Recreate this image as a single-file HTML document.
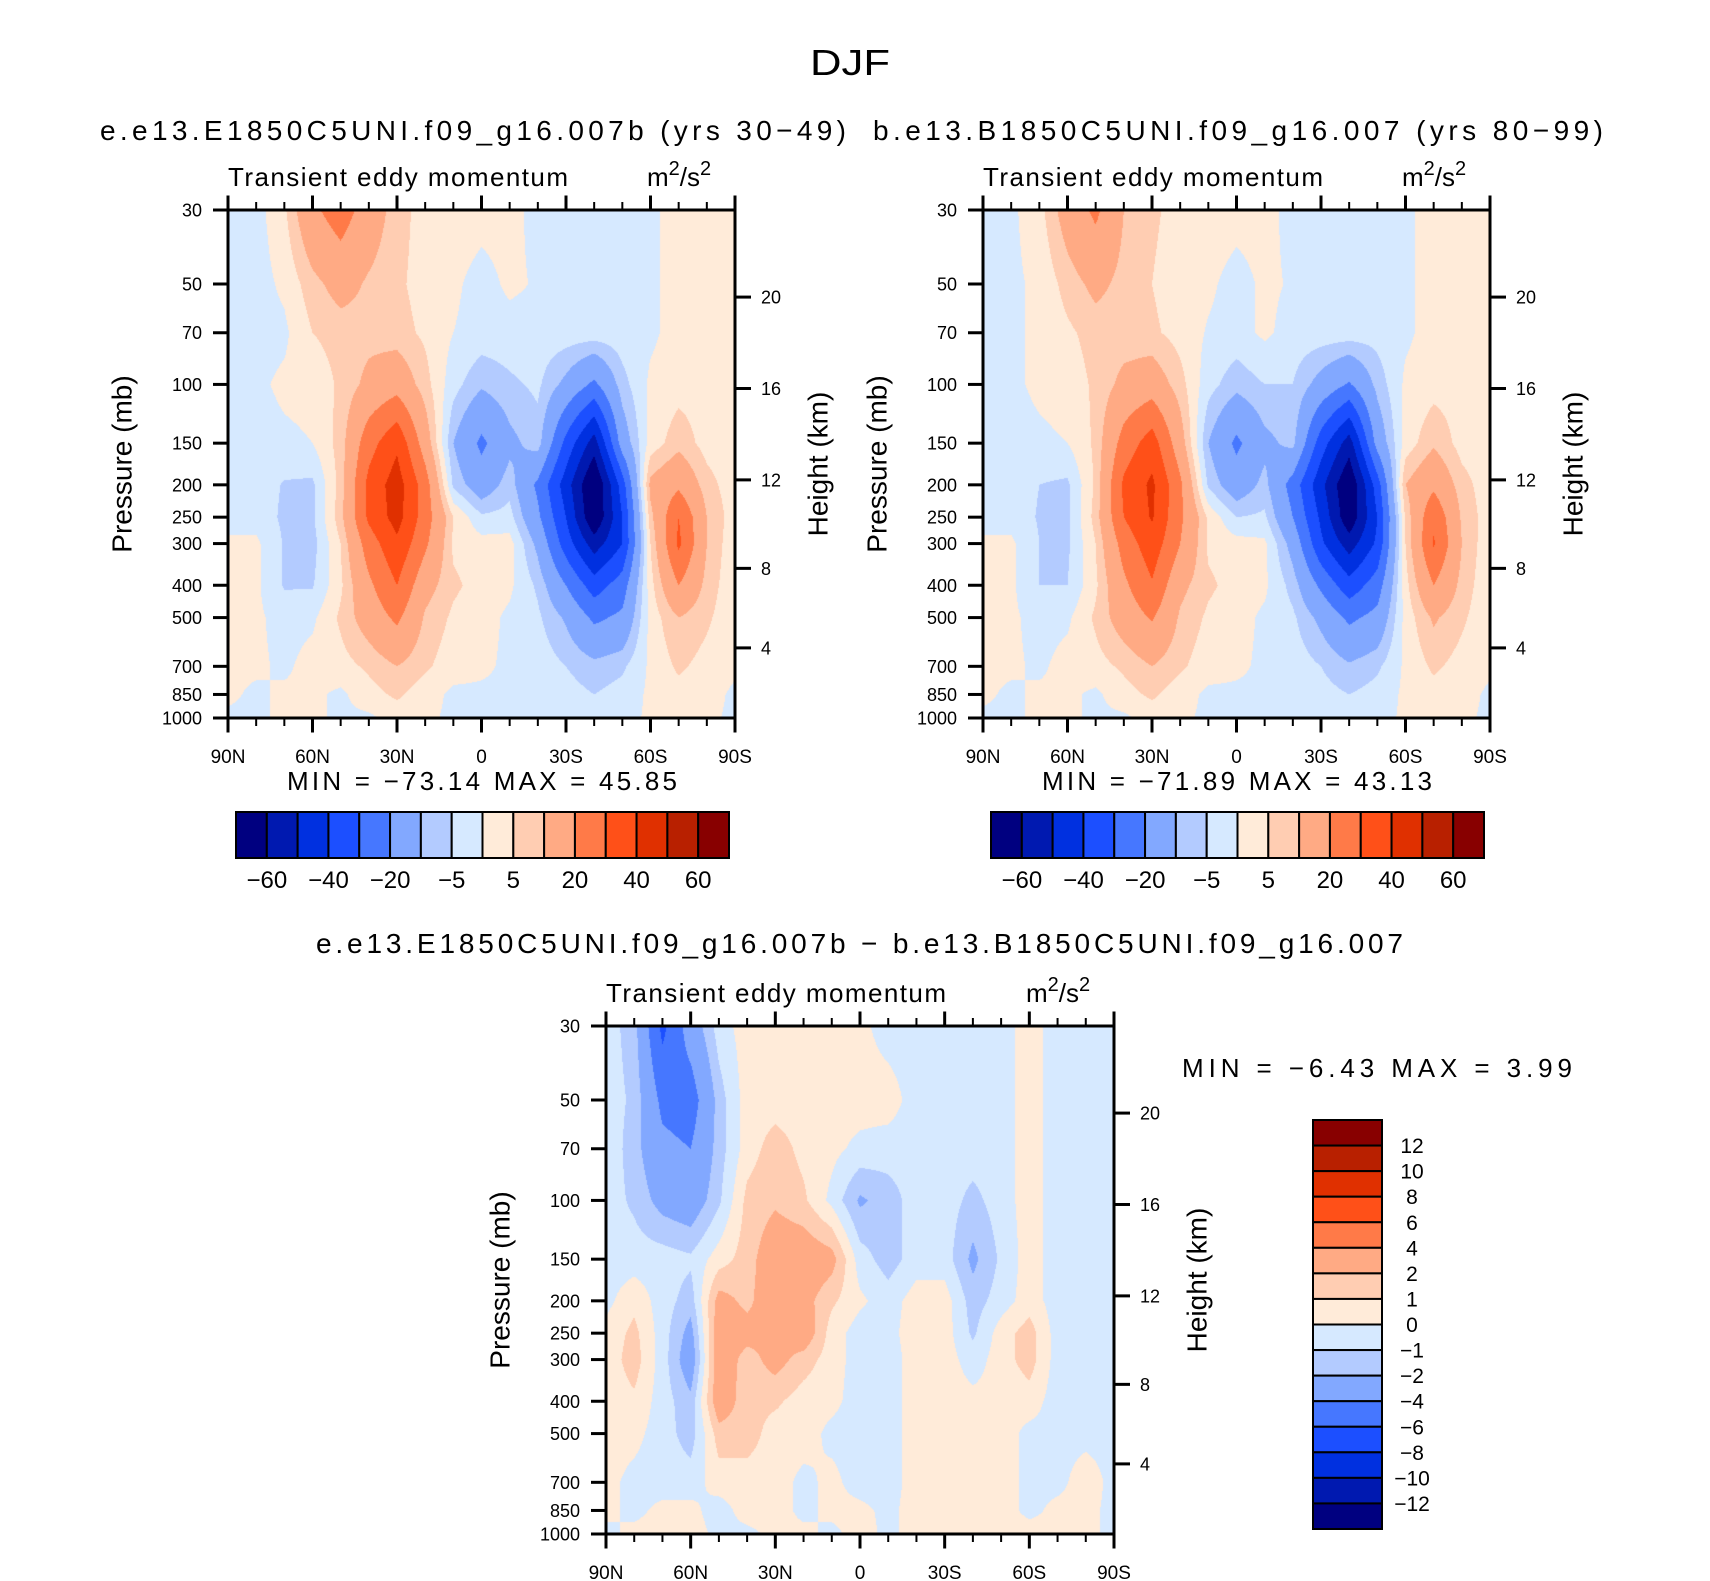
<!DOCTYPE html>
<html><head><meta charset="utf-8">
<style>
html,body{margin:0;padding:0;background:#fff;}
#root{position:relative;width:1710px;height:1581px;overflow:hidden;background:#fff;font-family:"Liberation Sans",sans-serif;}
canvas{position:absolute;}
svg{position:absolute;left:0;top:0;}
</style></head>
<body>
<div id="root">
<canvas id="c1" style="left:228px;top:210px" width="507" height="508"></canvas>
<canvas id="c2" style="left:983px;top:210px" width="507" height="508"></canvas>
<canvas id="c3" style="left:606px;top:1026px" width="508" height="508"></canvas>
<svg id="s" width="1710" height="1581"></svg>
</div>
<script>
// ---- data ----
const lats = [90,80,70,60,50,40,30,20,10,0,-10,-20,-30,-40,-50,-60,-70,-80,-90];
const plevs = [30,50,70,100,150,200,250,300,400,500,700,850,1000];
const pTicks = [30,50,70,100,150,200,250,300,400,500,700,850,1000];
const hTicks = [4,8,12,16,20];
const latTicks = [90,60,30,0,-30,-60,-90];
const latTickLabels = ["90N","60N","30N","0","30S","60S","90S"];
const levelsA = [-60,-50,-40,-30,-20,-10,-5,0,5,10,20,30,40,50,60];
const levelsALabels = ["−60","","−40","","−20","","−5","","5","","20","","40","","60"];
const levelsD = [-12,-10,-8,-6,-4,-2,-1,0,1,2,4,6,8,10,12];
const levelsDLabels = ["−12","−10","−8","−6","−4","−2","−1","0","1","2","4","6","8","10","12"];
const fillColors = ["#000080","#0019b0","#0030e0","#1c4fff","#4677ff","#82a8ff","#b3cbff","#d6e9ff","#ffebd9","#ffcdb2","#ffaa84","#ff7a48","#ff5018","#e03000","#b82000","#880000"];
const fieldE = [
[-2,-2,4,18,25,15,7,3,3,2,2,-2,-2,-2,-2,-1,2,2,2],
[-2,-2,1,8,13,9,6,3,1,-2,1,-0.5,-2,-2,-2,-1,2,2,2],
[-2,-2,-1,5,7,8,7,4,0,-2,-2,-2,-2,-2,-2,-1,2,2,2],
[-2,-1,1,1.5,6,12,16,7,-3,-9,-6,-4,-12,-22,-7,1,3,3,2],
[-2,-2,-1,0,7,26,38,15,-10,-22,-12,-7,-33,-55,-15,2,8,3,2],
[-2,-2,-5.5,-6,7,33,45,25,-6,-15,-7,-22,-45,-72,-35,12,18,7,2],
[-2,-2,-6,-6,8,32,44,25,5,-4,-3,-18,-40,-70,-40,8,30,10,2],
[1,1,-5.5,-7,5,25,38,22,4,2,2,-12,-35,-55,-40,5,32,10,1],
[1,1,-5.5,-5.5,4,18,30,13,6,3,1,-6,-20,-35,-25,3,20,8,1],
[1,1,-2,-1,6,14,22,9,4,2,-1,-4,-11,-22,-18,2,10,6,1],
[1,1,-1,2,3,6,10,6,2,1,-1,-2,-5,-8,-6,1,6,3,1],
[1,-1,1,1,-1,3,6,2,-1,-1,-1,-2,-3,-5,-3,1,3,2,-1],
[-1,-1,1,1,-1,-1,2,1,-1,-1,-3,-1,-3,-4,-2,1,1,1,-1]];
const fieldB = [
[-2,-1,3,14,22,10,6,3,3,2,2,-2,-2,-2,-2,-1,2,2,2],
[-2,-1,1,7,12,8,5,2,1,-2,1,-0.5,-2,-2,-2,-1,2,2,2],
[-2,-1,1,4,7,7,6,3,-0.5,-2,1,-2,-2,-2,-3,-1,2,2,2],
[-2,-1,1,2,6,12,15,7,-3,-8,-5,-5,-13,-21,-8,1,3,3,2],
[-2,-2,-1,0,6,24,35,14,-10,-22,-12,-8,-35,-55,-16,2,9,3,2],
[-2,-2,-5,-6,6,32,42,22,-6,-15,-8,-24,-47,-70,-35,10,18,7,2],
[-2,-2,-5.5,-6,7,30,41,22,4,-5,-4,-20,-42,-68,-40,6,28,9,2],
[1,1,-5,-6,5,24,36,20,4,2,1,-13,-38,-55,-38,5,31,10,1],
[1,1,-5,-5,4,18,29,12,6,3,1,-7,-22,-36,-25,3,20,8,1],
[1,1,-2,-1,6,14,21,9,4,2,-1,-4,-12,-22,-17,2,11,6,1],
[1,1,-1,2,3,6,10,6,2,1,-1,-2,-5,-9,-6,1,6,3,1],
[1,-1,1,1,-1,3,6,2,-1,-1,-1,-2,-3,-5,-3,1,3,2,-1],
[-1,-1,1,1,-1,-1,2,1,-1,-1,-3,-1,-3,-4,-2,1,1,1,-1]];
const fieldD = [
[-0.5,-1.5,-6.5,-3,-0.5,0.5,0.5,0.5,0.5,0.3,-0.5,-0.5,-0.5,-0.5,-0.5,0.5,-0.5,-0.5,-0.3],
[-0.5,-1.2,-4.5,-5,-1.5,0.5,0.5,0.5,0.5,0.5,0.5,-0.5,-0.5,-0.5,-0.5,0.5,-0.5,-0.5,-0.3],
[-0.3,-1.5,-3.5,-4,-1.5,0.5,1.5,0.7,0.3,-0.3,-0.5,-0.5,-0.5,-0.5,-0.5,0.5,-0.5,-0.5,-0.3],
[-0.5,-1.2,-2.5,-3,-1.2,1.3,1.8,1.2,-0.3,-2.2,-1.5,-0.5,-0.5,-1.3,-0.5,0.5,-0.5,-0.5,-0.5],
[-0.5,-0.5,-0.5,-0.8,0.5,1.5,3,3,2.5,-0.5,-1.5,-0.5,-0.5,-2.3,-0.8,0.5,-0.5,-0.5,-0.5],
[-0.3,0.7,-0.5,-1.5,2.5,1.7,3,2.5,1.2,0.2,-0.5,0.5,0.5,-1.5,-0.5,0.5,-0.5,-0.5,-0.5],
[0.3,1.3,-0.5,-2.5,3,2.5,2.2,3,0.5,-0.5,-0.3,0.5,0.5,-1.2,0.5,1.5,-0.5,-0.5,-0.3],
[0.4,1.5,-0.5,-3,3,1.5,2.5,1.5,0.5,-0.5,-0.5,0.5,0.5,-0.5,0.5,1.5,-0.5,-0.5,-0.3],
[0.4,0.8,-0.5,-1.7,3,1.3,1.2,0.5,0.3,-0.5,-0.5,0.5,0.5,0.3,0.3,0.5,-0.5,-0.5,-0.3],
[0.4,0.3,-0.5,-1.5,1.5,1.5,0.5,0.5,-0.3,-0.5,-0.5,0.5,0.5,0.5,0.5,-0.3,-0.3,-0.3,-0.3],
[0.3,-0.3,-0.5,-0.5,0.5,0.5,0.5,-0.3,0.3,-0.5,-0.5,0.5,0.5,0.5,0.5,-0.3,-0.3,0.5,-0.3],
[0.3,-0.3,0.3,0.3,-0.5,0.5,0.5,-0.3,0.3,0.3,-0.3,0.5,0.5,0.5,0.5,-0.3,0.3,0.3,-0.3],
[-0.3,0.3,0.5,0.5,-0.3,-0.3,0.3,0.3,-0.3,0.5,-0.3,0.5,0.5,0.5,0.5,0.5,0.3,0.3,-0.3]];

// ---- helpers ----
const LN = Math.log(1000/30);
function yFrac(p){return Math.log(p/30)/LN;}
function xFrac(lat){return (90-lat)/180;}
function zToP(z){return z<=11?1013.25*Math.pow(1-z/44.33,5.256):226.3*Math.exp(-(z-11)/6.34);}
function hex(c){return [parseInt(c.substr(1,2),16),parseInt(c.substr(3,2),16),parseInt(c.substr(5,2),16)];}
const rgb = fillColors.map(hex);
function binOf(v,lev){let i=0;while(i<lev.length&&v>=lev[i])i++;return i;}
const logP = plevs.map(p=>Math.log(p));

function drawField(id,field,lev){
  const cv=document.getElementById(id),ctx=cv.getContext('2d');
  const W=cv.width,H=cv.height,img=ctx.createImageData(W,H);
  for(let y=0;y<H;y++){
    const lp=Math.log(30)+ (y+0.5)/H*LN;
    let j=0;while(j<logP.length-2&&lp>logP[j+1])j++;
    let ty=(lp-logP[j])/(logP[j+1]-logP[j]);ty=Math.max(0,Math.min(1,ty));
    for(let x=0;x<W;x++){
      const lf=(x+0.5)/W*(lats.length-1);
      let i=Math.min(lats.length-2,Math.floor(lf));const tx=lf-i;
      const v=(field[j][i]*(1-tx)+field[j][i+1]*tx)*(1-ty)+(field[j+1][i]*(1-tx)+field[j+1][i+1]*tx)*ty;
      const c=rgb[binOf(v,lev)],k=(y*W+x)*4;
      img.data[k]=c[0];img.data[k+1]=c[1];img.data[k+2]=c[2];img.data[k+3]=255;
    }
  }
  ctx.putImageData(img,0,0);
}
drawField('c1',fieldE,levelsA);
drawField('c2',fieldB,levelsA);
drawField('c3',fieldD,levelsD);

const NS="http://www.w3.org/2000/svg",S=document.getElementById('s');
function el(tag,attrs,txt){const e=document.createElementNS(NS,tag);for(const k in attrs)e.setAttribute(k,attrs[k]);if(txt!==undefined)e.textContent=txt;S.appendChild(e);return e;}
function line(x1,y1,x2,y2,w,name){const e=el('line',{x1,y1,x2,y2,stroke:'#000','stroke-width':w});

return e;}
function text(x,y,s,size,anchor,name,extra){const a={x,y,'font-size':size,'text-anchor':anchor||'start',fill:'#000'};if(extra)Object.assign(a,extra);const e=el('text',a,s);

return e;}

function axes(x0,y0,W,H){
  const X=lat=>x0+xFrac(lat)*W, Y=p=>y0+yFrac(p)*H;
  const r=el('rect',{x:x0,y:y0,width:W,height:H,fill:'none',stroke:'#000','stroke-width':3});
  
  
  pTicks.forEach(p=>{line(x0-15,Y(p),x0,Y(p),3,'pressure-tick');text(x0-26,Y(p)+6.5,String(p),18,'end','pressure-tick-label');});
  hTicks.forEach(z=>{const y=Y(zToP(z));line(x0+W,y,x0+W+16,y,3,'height-tick');text(x0+W+26,y+6.5,String(z),18,'start','height-tick-label');});
  for(let lat=90;lat>=-90;lat-=10){const major=lat%30===0,L=major?14.5:8,w=major?3:2;
    line(X(lat),y0-L,X(lat),y0,w,'lat-tick-top');line(X(lat),y0+H,X(lat),y0+H+L,w,'lat-tick-bottom');}
  latTicks.forEach((lat,i)=>text(X(lat),y0+H+45,latTickLabels[i],19,'middle','lat-tick-label'));
  const cy=y0+H/2;
  text(x0-104,cy,'Pressure  (mb)',28,'middle','y-axis-title',{transform:`rotate(-90 ${x0-104} ${cy})`,'dominant-baseline':'middle'});
  text(x0+W+85,cy,'Height  (km)',28,'middle','height-axis-title',{transform:`rotate(-90 ${x0+W+85} ${cy})`,'dominant-baseline':'middle'});
  text(x0,y0-24,'Transient  eddy  momentum',26,'start','plot-subtitle',{textLength:340,lengthAdjust:'spacing'});
  const u=text(x0+W-88,y0-24,'',26,'start','units-label');
  u.innerHTML='m<tspan dy="-11" font-size="20">2</tspan><tspan dy="11">/s</tspan><tspan dy="-11" font-size="20">2</tspan>';
}
axes(228,210,507,508);
axes(983,210,507,508);
axes(606,1026,508,508);

function hbar(x0,y0,W,H){
  const n=fillColors.length,bw=W/n;
  fillColors.forEach((c,i)=>{const r=el('rect',{x:x0+i*bw,y:y0,width:bw,height:H,fill:c,stroke:'#000','stroke-width':2});
    
    });
  levelsA.forEach((v,i)=>{if(levelsALabels[i])text(x0+(i+1)*bw,y0+H+30,levelsALabels[i],24,'middle','colorbar-label');});
}
hbar(236,812,493,46);
hbar(991,812,493,46);
function vbar(x0,y0,W,H){
  const n=fillColors.length,bh=H/n;
  fillColors.slice().reverse().forEach((c,i)=>{const r=el('rect',{x:x0,y:y0+i*bh,width:W,height:bh,fill:c,stroke:'#000','stroke-width':2});
    
    });
  levelsDLabels.slice().reverse().forEach((s,i)=>text(x0+W+30,y0+(i+1)*bh+7.5,s,21,'middle','colorbar-label'));
}
vbar(1313,1120,69,409);

text(850,75,'DJF',36,'middle','figure-title',{textLength:80,lengthAdjust:'spacingAndGlyphs'});
text(100,140,'e.e13.E1850C5UNI.f09_g16.007b (yrs 30−49)',28,'start','panel-title-left',{textLength:746,lengthAdjust:'spacing'});
text(873,140,'b.e13.B1850C5UNI.f09_g16.007 (yrs 80−99)',28,'start','panel-title-right',{textLength:730,lengthAdjust:'spacing'});
text(316,953,'e.e13.E1850C5UNI.f09_g16.007b − b.e13.B1850C5UNI.f09_g16.007',28,'start','panel-title-diff',{textLength:1087,lengthAdjust:'spacing'});
text(287,790,'MIN =  −73.14   MAX =   45.85',26,'start','min-max-left',{textLength:390,'xml:space':'preserve'});
text(1042,790,'MIN =  −71.89   MAX =   43.13',26,'start','min-max-right',{textLength:390,'xml:space':'preserve'});
text(1182,1077,'MIN =   −6.43   MAX =     3.99',26,'start','min-max-diff',{textLength:390,'xml:space':'preserve'});
</script>
</body></html>
